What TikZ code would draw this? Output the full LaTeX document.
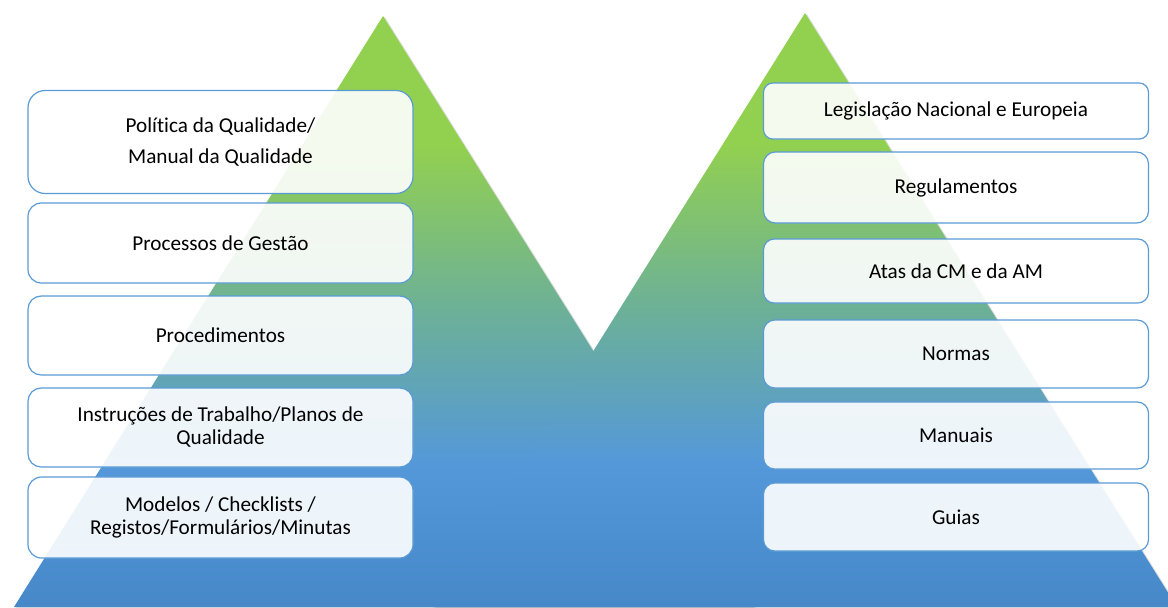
\documentclass[tikz,border=0pt]{standalone}
\usepackage{fontspec}
\setmainfont{Carlito}[Ligatures=NoCommon]
\usetikzlibrary{positioning, shadows}

\definecolor{pyrgreen}{RGB}{146,208,80}
\definecolor{pyrteal}{RGB}{108,176,152}
\definecolor{pyrblue}{RGB}{84,152,218}
\definecolor{pyrdeep}{RGB}{70,136,200}
\definecolor{boxline}{RGB}{91,155,213}

\pgfdeclareverticalshading{pyrshade}{100bp}{color(0bp)=(pyrdeep); color(25bp)=(pyrdeep); color(37bp)=(pyrblue); color(50bp)=(pyrteal); color(64bp)=(pyrgreen); color(100bp)=(pyrgreen)}

\begin{document}
\begin{tikzpicture}[
        x=0.5pt, y=-0.5pt,
        tri/.style={shading=pyrshade, drop shadow={shadow xshift=1pt, shadow yshift=-0.6pt, opacity=0.25}},
        pbox/.style={rectangle, draw=boxline, line width=0.6pt, fill=white, fill opacity=0.9, text opacity=1,
            minimum width=192.5pt, minimum height={#1*0.5pt}, rounded corners={#1*0.5pt/6},
            align=center, inner sep=0pt, font=\fontsize{10.6pt}{11.5pt}\selectfont}
    ]
    \clip (0,0) rectangle (1168,607);

    % pyramids
    \shade[tri] (383,16) -- (14,607) -- (754,607) -- cycle;
    \shade[tri] (805,13) -- (433,607) -- (1177,607) -- cycle;

    % internal documents
    \node[pbox=103, font=\fontsize{10.6pt}{15.5pt}\selectfont] (politica) at (220.5,142) {Política da Qualidade/\\Manual da Qualidade};
    \node[pbox=80] (processos) at (220.5,243) {Processos de Gestão};
    \node[pbox=79] (procedimentos) at (220.5,335.5) {Procedimentos};
    \node[pbox=79] (instrucoes) at (220.5,427.5) {Instruções de Trabalho/Planos de\\Qualidade};
    \node[pbox=81] (modelos) at (220.5,517.5) {Modelos / Checklists /\\Registos/Formulários/Minutas};

    % external documents
    \node[pbox=56] (legislacao) at (956,111) {Legislação Nacional e Europeia};
    \node[pbox=71] (regulamentos) at (956,187.5) {Regulamentos};
    \node[pbox=64] (atas) at (956,271) {Atas da CM e da AM};
    \node[pbox=68] (normas) at (956,354) {Normas};
    \node[pbox=67] (manuais) at (956,435.5) {Manuais};
    \node[pbox=68] (guias) at (956,517) {Guias};
\end{tikzpicture}
\end{document}
